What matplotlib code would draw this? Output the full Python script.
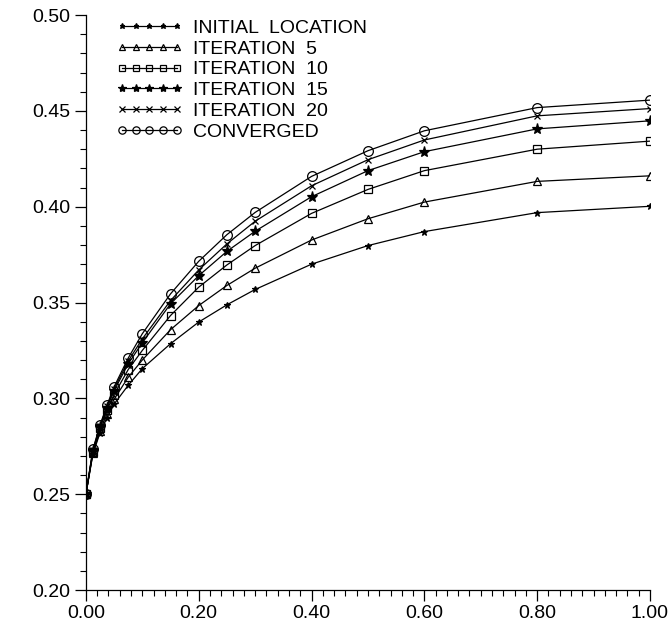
import matplotlib
matplotlib.use("Agg")
import matplotlib.pyplot as plt
from matplotlib.ticker import MultipleLocator, FormatStrFormatter

plt.rcParams['font.family'] = ['Liberation Sans', 'DejaVu Sans']

x = [0.0, 0.0125, 0.025, 0.0375, 0.05, 0.075, 0.1, 0.15, 0.2, 0.25, 0.3, 0.4, 0.5, 0.6, 0.8, 1.0]

initial = [0.250, 0.2710, 0.2820, 0.2900, 0.2970, 0.3068, 0.3155, 0.3285, 0.3398, 0.3488, 0.3568, 0.3700, 0.3797, 0.3870, 0.3969, 0.4002]
iter5 = [0.250, 0.2715, 0.2830, 0.2920, 0.2995, 0.3110, 0.3200, 0.3358, 0.3484, 0.3589, 0.3679, 0.3826, 0.3937, 0.4024, 0.4132, 0.4161]
iter10 = [0.250, 0.2720, 0.2845, 0.2940, 0.3020, 0.3150, 0.3250, 0.3432, 0.3580, 0.3696, 0.3797, 0.3965, 0.4090, 0.4188, 0.4300, 0.4342]
iter15 = [0.250, 0.2725, 0.2850, 0.2950, 0.3040, 0.3180, 0.3290, 0.3493, 0.3640, 0.3767, 0.3872, 0.4052, 0.4188, 0.4287, 0.4406, 0.4448]
iter20 = [0.250, 0.2730, 0.2855, 0.2960, 0.3050, 0.3195, 0.3310, 0.3510, 0.3670, 0.3806, 0.3924, 0.4109, 0.4245, 0.4348, 0.4474, 0.4512]
converged = [0.250, 0.2735, 0.2860, 0.2965, 0.3060, 0.3210, 0.3337, 0.3545, 0.3715, 0.3854, 0.3970, 0.4158, 0.4292, 0.4396, 0.4517, 0.4556]

labels = ['INITIAL  LOCATION', 'ITERATION  5', 'ITERATION  10', 'ITERATION  15', 'ITERATION  20', 'CONVERGED']
xticks = [0.0, 0.2, 0.4, 0.6, 0.8, 1.0]
yticks = [0.20, 0.25, 0.30, 0.35, 0.40, 0.45, 0.50]

series = [initial, iter5, iter10, iter15, iter20, converged]
styles = [
    dict(marker='*', ms=5, mfc='black', mec='black'),
    dict(marker='^', ms=6, mfc='none', mec='black'),
    dict(marker='s', ms=6, mfc='none', mec='black'),
    dict(marker='*', ms=8, mfc='black', mec='black'),
    dict(marker='x', ms=5, mfc='black', mec='black'),
    dict(marker='o', ms=7, mfc='none', mec='black'),
]

fig = plt.figure(figsize=(6.71, 6.26), dpi=100)
ax = fig.add_axes([0.128, 0.0575, 0.8407, 0.9185])

for ys, lab, st in zip(series, labels, styles):
    ax.plot(x, ys, color='black', lw=0.9, mew=0.9, label=lab, **st)

ax.set_xlim(0.0, 1.0)
ax.set_ylim(0.20, 0.50)
ax.set_xticks(xticks)
ax.set_yticks(yticks)
ax.xaxis.set_minor_locator(MultipleLocator(0.02))
ax.yaxis.set_minor_locator(MultipleLocator(0.01))
ax.xaxis.set_major_formatter(FormatStrFormatter('%.2f'))
ax.yaxis.set_major_formatter(FormatStrFormatter('%.2f'))
ax.tick_params(which='major', length=8, width=0.9, direction='out', labelsize=14, pad=3, colors='black')
ax.tick_params(which='minor', length=4, width=0.8, direction='out')
for s in ['top', 'right']:
    ax.spines[s].set_visible(False)
for s in ['left', 'bottom']:
    ax.spines[s].set_linewidth(0.9)

leg = ax.legend(loc='upper left', bbox_to_anchor=(0.04, 1.006), frameon=False,
                numpoints=5, handlelength=3.4, handletextpad=0.55, labelspacing=0.16,
                fontsize=14, markerscale=0.75, borderaxespad=0.0)

fig.savefig('out.png', dpi=100, facecolor='white')
